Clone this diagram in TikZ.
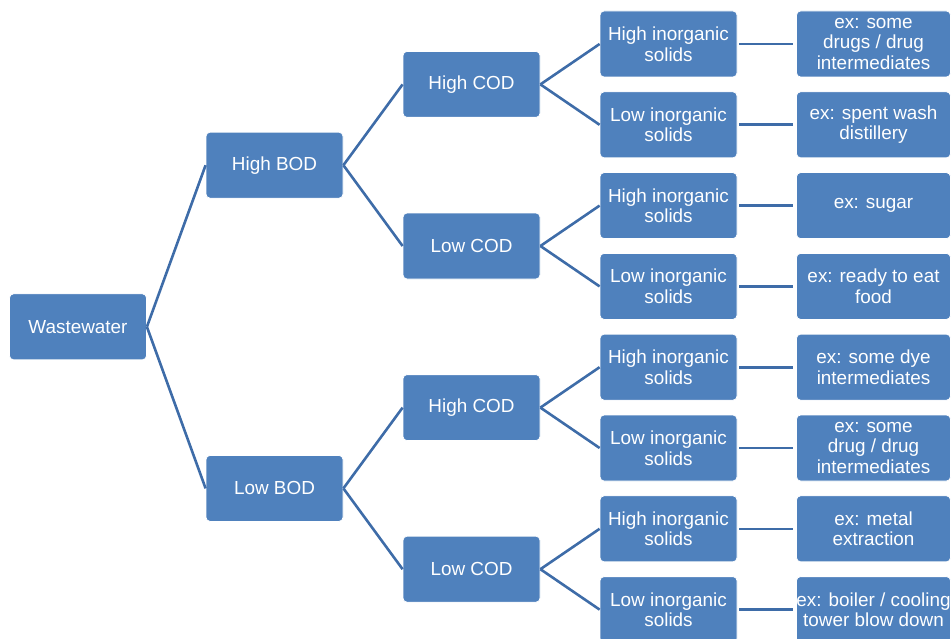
\documentclass[tikz,border=0pt]{standalone}
\usepackage{fontspec}
\setmainfont{Liberation Sans}
\definecolor{boxblue}{HTML}{4F81BD}
\definecolor{lineblue}{HTML}{3E6CA8}
\begin{document}
\begin{tikzpicture}[x=1pt,y=-1pt,
  box/.style={draw=white, line width=0.8pt, fill=boxblue, rounded corners=4pt,
    text=white, align=center, minimum height=66pt, inner sep=0pt,
    font=\fontsize{18.9}{20.5}\selectfont},
  wa/.style={box, minimum width=137pt},
  wb/.style={box, minimum width=154pt},
  conn/.style={draw=lineblue, line width=2.6pt},
  hconn/.style={conn, shorten <=2pt, shorten >=3pt}]
\useasboundingbox (0,0) rectangle (952,639);
% level 0
\node[wa] (w) at (78,326.8) {Wastewater};
% level 1
\node[wa] (hb) at (274.5,165.2) {High BOD};
\node[wa] (lb) at (274.5,488.4) {Low BOD};
% level 2
\node[wa] (c1) at (471.5,84.4) {High COD};
\node[wa] (c2) at (471.5,246) {Low COD};
\node[wa] (c3) at (471.5,407.6) {High COD};
\node[wa] (c4) at (471.5,569.2) {Low COD};
% level 3
\node[wa] (s1) at (668.5,44) {High inorganic\\solids};
\node[wa] (s2) at (668.5,124.8) {Low inorganic\\solids};
\node[wa] (s3) at (668.5,205.6) {High inorganic\\solids};
\node[wa] (s4) at (668.5,286.4) {Low inorganic\\solids};
\node[wa] (s5) at (668.5,367.2) {High inorganic\\solids};
\node[wa] (s6) at (668.5,448) {Low inorganic\\solids};
\node[wa] (s7) at (668.5,528.8) {High inorganic\\solids};
\node[wa] (s8) at (668.5,609.6) {Low inorganic\\solids};
% level 4
\node[wb] (e1) at (873.5,44) {ex: some\\drugs / drug\\intermediates};
\node[wb] (e2) at (873.5,124.8) {ex: spent wash\\distillery};
\node[wb] (e3) at (873.5,205.6) {ex: sugar};
\node[wb] (e4) at (873.5,286.4) {ex: ready to eat\\food};
\node[wb] (e5) at (873.5,367.2) {ex: some dye\\intermediates};
\node[wb] (e6) at (873.5,448) {ex: some\\drug / drug\\intermediates};
\node[wb] (e7) at (873.5,528.8) {ex: metal\\extraction};
\node[wb] (e8) at (873.5,609.6) {ex: boiler / cooling\\tower blow down};
% connectors
\draw[conn] (w.east) -- (hb.west);
\draw[conn] (w.east) -- (lb.west);
\draw[conn] (hb.east) -- (c1.west);
\draw[conn] (hb.east) -- (c2.west);
\draw[conn] (lb.east) -- (c3.west);
\draw[conn] (lb.east) -- (c4.west);
\draw[conn] (c1.east) -- (s1.west);
\draw[conn] (c1.east) -- (s2.west);
\draw[conn] (c2.east) -- (s3.west);
\draw[conn] (c2.east) -- (s4.west);
\draw[conn] (c3.east) -- (s5.west);
\draw[conn] (c3.east) -- (s6.west);
\draw[conn] (c4.east) -- (s7.west);
\draw[conn] (c4.east) -- (s8.west);
\foreach \i in {1,...,8} {\draw[hconn] (s\i.east) -- (e\i.west);}
\end{tikzpicture}
\end{document}
